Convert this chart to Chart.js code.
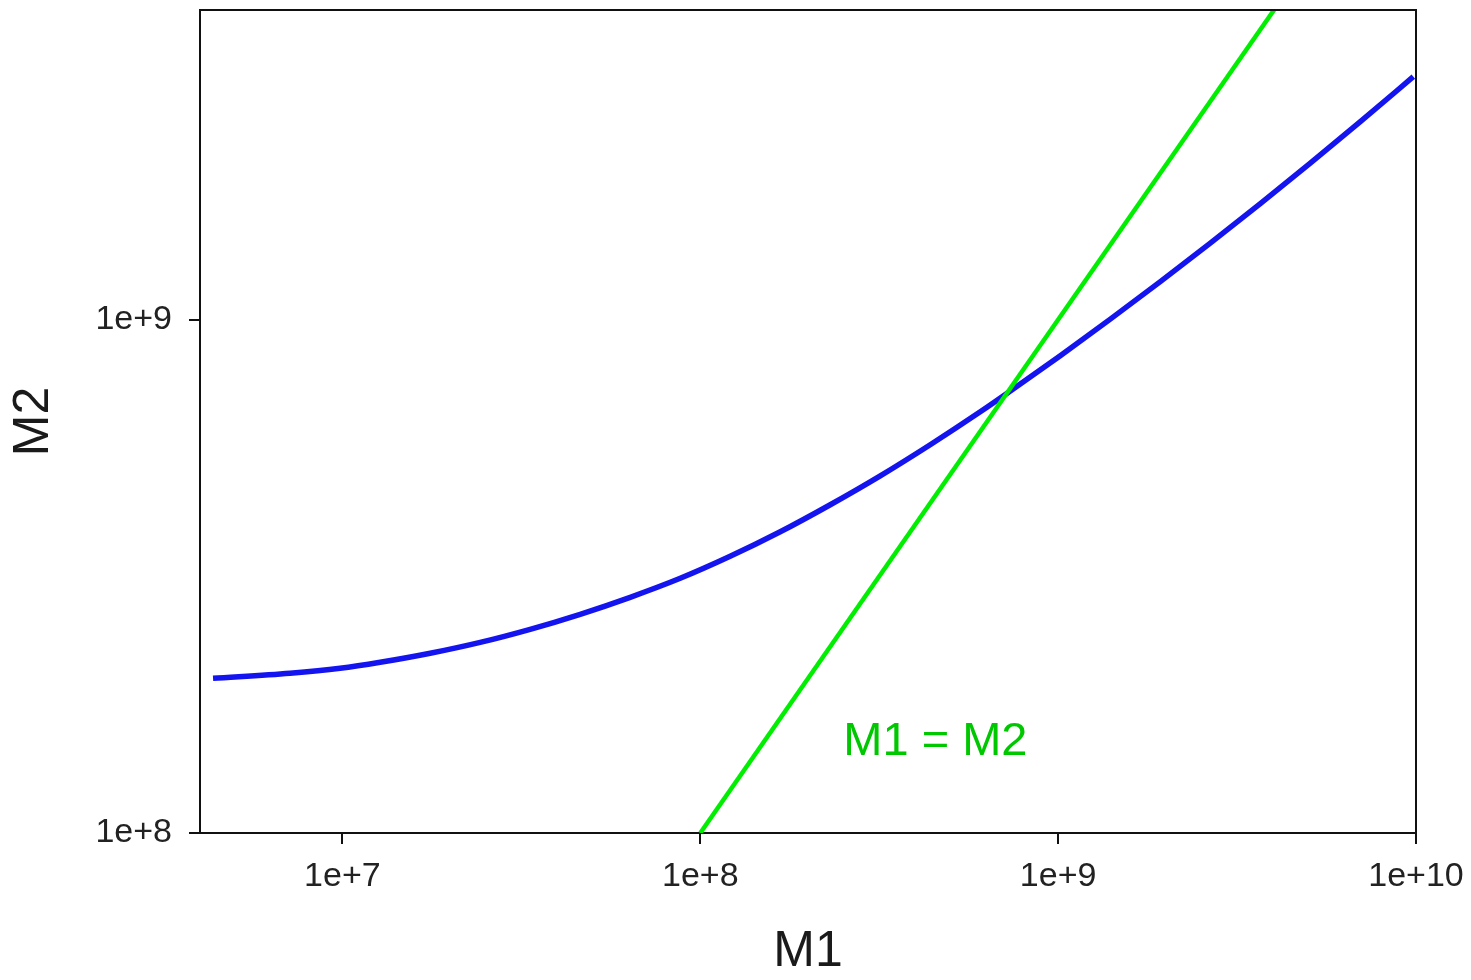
<!DOCTYPE html>
<html>
<head>
<meta charset="utf-8">
<script src="https://cdn.jsdelivr.net/npm/chart.js@4.4.1/dist/chart.umd.min.js"></script>
<style>
  html, body { margin: 0; padding: 0; background: #ffffff; }
  #wrap { width: 1471px; height: 980px; }
</style>
</head>
<body>
<div id="wrap"><canvas id="c" width="1471" height="980"></canvas></div>
<script>
// ---- data ----
const m1Values = [4.35e6, 7.14e6, 9.85e6, 1.275e7, 1.759e7, 2.426e7, 3.346e7, 4.617e7, 6.37e7, 8.79e7,
                  1.212e8, 1.673e8, 2.308e8, 3.184e8, 4.391e8, 6.06e8, 7.254e8, 1.014e9, 1.399e9, 1.930e9,
                  2.662e9, 3.673e9, 5.066e9, 6.99e9, 9.83e9];
const m2Values = [2.001e8, 2.047e8, 2.093e8, 2.150e8, 2.239e8, 2.351e8, 2.493e8, 2.667e8, 2.878e8, 3.134e8,
                  3.459e8, 3.861e8, 4.359e8, 4.962e8, 5.705e8, 6.613e8, 7.211e8, 8.507e8, 1.0022e9, 1.186e9,
                  1.409e9, 1.683e9, 2.017e9, 2.430e9, 2.973e9];
const identityX = [1e8, 4.1e9];
const identityY = [1e8, 4.1e9];
const xTickValues = [1e7, 1e8, 1e9, 1e10];
const xTickLabels = ['1e+7', '1e+8', '1e+9', '1e+10'];
const yTickValues = [1e8, 1e9];
const yTickLabels = ['1e+8', '1e+9'];
const xRange = [4.0e6, 1e10];
const yRange = [1e8, 4.01e9];
const xTitle = 'M1';
const yTitle = 'M2';
const annotationText = 'M1 = M2';
const annotationAt = [2.51e8, 1.417e8];

const blueData = m1Values.map((x, i) => ({ x: x, y: m2Values[i] }));
const greenData = identityX.map((x, i) => ({ x: x, y: identityY[i] }));

const frameAndLabel = {
  id: 'frameAndLabel',
  afterDatasetsDraw(chart) {
    const { ctx, chartArea, scales } = chart;
    ctx.save();
    ctx.strokeStyle = '#111';
    ctx.lineWidth = 2;
    ctx.beginPath();
    ctx.moveTo(chartArea.left, chartArea.top);
    ctx.lineTo(chartArea.right, chartArea.top);
    ctx.lineTo(chartArea.right, chartArea.bottom);
    ctx.stroke();
    ctx.fillStyle = 'rgb(0,200,0)';
    ctx.font = '47px "Liberation Sans", Arial, sans-serif';
    ctx.textAlign = 'left';
    ctx.textBaseline = 'alphabetic';
    ctx.fillText(annotationText,
      scales.x.getPixelForValue(annotationAt[0]),
      scales.y.getPixelForValue(annotationAt[1]));
    ctx.restore();
  }
};

const tickFont = { family: '"Liberation Sans", Arial, sans-serif', size: 34 };
const titleFont = { family: '"Liberation Sans", Arial, sans-serif', size: 50, lineHeight: 1 };

new Chart(document.getElementById('c'), {
  type: 'scatter',
  data: {
    datasets: [
      {
        data: blueData,
        showLine: true,
        borderColor: '#1414f0',
        borderWidth: 5.5,
        pointRadius: 0,
        cubicInterpolationMode: 'monotone',
        order: 2
      },
      {
        data: greenData,
        showLine: true,
        borderColor: '#00ee00',
        borderWidth: 4.5,
        pointRadius: 0,
        order: 1
      }
    ]
  },
  options: {
    responsive: false,
    animation: false,
    devicePixelRatio: 1,
    layout: { padding: { left: 0, top: 10, right: 55, bottom: 0 } },
    plugins: { legend: { display: false }, tooltip: { enabled: false } },
    scales: {
      x: {
        type: 'logarithmic',
        position: 'bottom',
        min: xRange[0],
        max: xRange[1],
        afterBuildTicks: (s) => { s.ticks = xTickValues.map(v => ({ value: v })); },
        afterFit: (s) => { s.height = 147; s.paddingLeft = 0; s.paddingRight = 0; },
        ticks: {
          autoSkip: false,
          maxRotation: 0,
          color: '#222',
          font: tickFont,
          padding: 12,
          callback: (v) => { const i = xTickValues.indexOf(v); return i >= 0 ? xTickLabels[i] : ''; }
        },
        grid: { display: true, drawOnChartArea: false, drawTicks: true, tickLength: 11, color: '#111', lineWidth: 2 },
        border: { display: true, color: '#111', width: 2 },
        title: { display: true, text: xTitle, color: '#1a1a1a', font: titleFont, padding: { top: 0, bottom: 3 } }
      },
      y: {
        type: 'logarithmic',
        position: 'left',
        min: yRange[0],
        max: yRange[1],
        afterBuildTicks: (s) => { s.ticks = yTickValues.map(v => ({ value: v })); },
        afterFit: (s) => { s.width = 200; s.paddingTop = 0; s.paddingBottom = 0; },
        ticks: {
          autoSkip: false,
          color: '#222',
          font: tickFont,
          padding: 17,
          callback: (v) => { const i = yTickValues.indexOf(v); return i >= 0 ? yTickLabels[i] : ''; }
        },
        grid: { display: true, drawOnChartArea: false, drawTicks: true, tickLength: 11, color: '#111', lineWidth: 2 },
        border: { display: true, color: '#111', width: 2 },
        title: { display: true, text: yTitle, color: '#1a1a1a', font: titleFont, padding: { top: 9, bottom: 0 } }
      }
    }
  },
  plugins: [frameAndLabel]
});
</script>
</body>
</html>
